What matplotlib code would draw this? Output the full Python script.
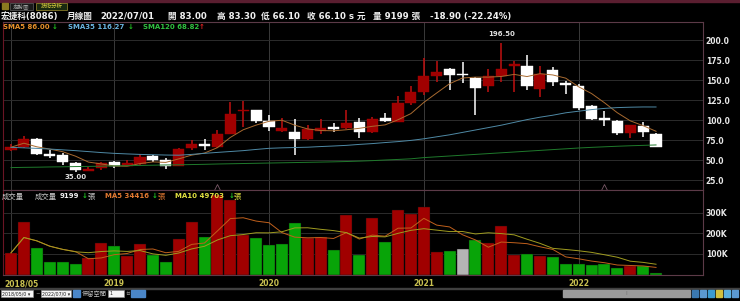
import numpy as np
import pandas as pd
import matplotlib.pyplot as plt
from matplotlib.patches import Rectangle

plt.rcParams['font.family'] = ['DejaVu Sans', 'Noto Sans CJK TC']

# monthly candles 2018/05 .. 2022/07
months = pd.period_range('2018-05', '2022-07', freq='M')
opens = [62, 66, 76, 58, 56, 46.5, 36.5, 40, 47, 43, 45.5, 55, 50, 43, 65, 69.5, 66,
         83, 111, 112.5, 99, 86, 85.5, 76, 86.5, 91, 89.5, 97, 85, 102, 98, 121, 135.5,
         155.5, 164, 158, 153, 143, 155, 167.5, 167.5, 139, 163, 146.5, 142.5, 117.5,
         102, 99, 83.5, 93, 83]
highs = [70, 80, 77, 62, 59, 48, 41, 48, 49, 50, 57, 56.5, 52, 65, 75, 76, 88, 123,
         124, 113, 106, 103, 101, 94, 101, 96, 112.5, 102, 104, 109, 130, 142.5, 178,
         174, 165, 172, 154, 164, 196.5, 174, 181, 167, 166, 149, 145, 119, 111, 100,
         93.8, 98, 83.3]
lows = [61, 65, 56, 53, 44, 35, 36, 37, 40, 42, 44, 48, 38.5, 42, 62.5, 62, 65, 82,
        91, 96.5, 86, 85.5, 56, 75.5, 83, 85.5, 89, 77, 84, 97, 97, 119, 131, 148, 138,
        146, 106, 135, 148, 135, 137.5, 129, 142, 132.5, 112.5, 100, 93, 81, 77, 79, 66.1]
closes = [66, 76, 57.5, 55, 47.5, 38, 39, 46, 42, 46.5, 54, 49.5, 43, 64, 70, 67, 83,
          107, 112, 99, 91, 89.5, 76, 88.5, 89.5, 89, 96, 85, 101, 98.5, 121, 134.5, 155,
          160, 156.5, 156.5, 140, 155, 164, 169.5, 143, 158, 147, 144, 115.5, 101, 100.5,
          84.3, 93.6, 85, 66.1]
# volume in thousand lots
vol_k = [105, 254, 131, 60, 60, 51, 80, 151, 139, 89, 147, 93, 60, 173, 257, 181, 385,
         360, 194, 176, 141, 146, 249, 178, 183, 118, 287, 94, 273, 157, 312, 292, 328,
         109, 113, 122, 167, 151, 234, 97, 99, 92, 86, 53, 51, 44, 52, 30, 42, 39, 9.199]
sma35 = [65.8, 65.2, 64.5, 63.7, 62.7, 61.7, 60.5, 59.3, 58.3, 57.6, 57, 56.6, 56.2, 56,
         57, 58.3, 59.5, 60.6, 61.7, 63.2, 64.6, 65.2, 65.6, 66, 66.8, 67.5, 68.3, 69.5,
         70.5, 71.8, 73, 74.5, 76.5, 79, 81.5, 84.5, 87.5, 90.5, 93.5, 97, 100.5, 103.5,
         106, 109, 111, 113, 114.5, 115.5, 116, 116.3, 116.27]
sma120 = [40.5, 40.8, 41.0, 41.3, 41.5, 41.8, 42.0, 42.3, 42.6, 42.9, 43.2, 43.5, 43.8,
          44.0, 44.3, 44.6, 45.0, 45.3, 45.6, 45.9, 46.2, 46.5, 46.8, 47.1, 47.4, 47.7,
          48.1, 48.6, 49.2, 50.0, 50.7, 51.5, 53.0, 54.0, 55.0, 56.0, 57.0, 58.0, 59.0,
          60.0, 61.0, 62.0, 63.0, 64.0, 65.0, 65.8, 66.5, 67.2, 67.8, 68.3, 68.82]
year_ticks = [0, 8, 20, 32, 44]
year_labels = ['2018/05', '2019', '2020', '2021', '2022']
event_idx = [16, 46]

W, H = 740, 301
fig = plt.figure(figsize=(W / 100, H / 100), dpi=100, facecolor='black')


def px_axes(x0, y0, x1, y1):
    a = fig.add_axes([x0 / W, 1 - y1 / H, (x1 - x0) / W, (y1 - y0) / H])
    a.set_facecolor('black')
    return a


def ftext(x, y, s, **kw):
    kw.setdefault('va', 'center')
    fig.text(x / W, 1 - y / H, s, **kw)


def frect(x0, y0, x1, y1, **kw):
    fig.patches.append(Rectangle((x0 / W, 1 - y1 / H), (x1 - x0) / W, (y1 - y0) / H,
                                 transform=fig.transFigure, **kw))


o = np.array(opens)
hi = np.array(highs)
lo = np.array(lows)
c = np.array(closes)
v = np.array(vol_k)
x = np.arange(len(months))
sma5 = pd.Series(c).rolling(5, min_periods=1).mean()
vma5 = pd.Series(v).rolling(5, min_periods=1).mean()
vma10 = pd.Series(v).rolling(10, min_periods=1).mean()

RED = '#a00000'
GREEN = '#08a408'
GRID = '#2c2c2c'
FRAME = '#5c3a48'

ax = px_axes(3, 22, 703, 190)
axv = px_axes(3, 190, 703, 274.5)
for a in (ax, axv):
    a.set_xlim(-0.62, 53.64)
    for s in a.spines.values():
        s.set_color(FRAME)
        s.set_linewidth(0.8)
    a.spines['left'].set_color('#6a1424')
    a.set_xticks([])
    for t in year_ticks:
        a.axvline(t, color='#3a3a3a', lw=0.7, zorder=0)

# price panel
ax.set_ylim(12.5, 222.5)
ticks = np.arange(25, 201, 25)
ax.set_yticks(ticks)
ax.set_yticklabels(['%.1f' % t for t in ticks])
ax.tick_params(axis='y', left=False, right=True, labelleft=False, labelright=True,
               length=0, pad=2, labelsize=5.5, labelcolor='#e8e8e8')
for lab in ax.get_yticklabels():
    lab.set_fontweight('bold')
for t in ticks:
    ax.axhline(t, color=GRID, lw=0.7, zorder=0)

up = c > o
col = np.where(up, RED, '#ffffff')
wick_col = np.where(up, '#c01010', '#ffffff')
ax.vlines(x, lo, hi, colors=wick_col, lw=1.1, zorder=2)
body_h = np.maximum(np.abs(c - o), 1.2)
ax.bar(x, body_h, bottom=np.minimum(o, c), width=0.86, color=col, edgecolor=col,
       lw=0.3, zorder=3)

ax.plot(x, sma5, color='#a86a30', lw=0.7, zorder=4)
ax.plot(x, sma35, color='#4f8aa6', lw=0.7, zorder=4)
ax.plot(x, sma120, color='#1f7a2c', lw=0.7, zorder=4)

imax = int(np.argmax(hi))
imin = int(np.argmin(lo))
ax.annotate('%.2f' % hi[imax], (imax, hi[imax]), xytext=(0, 4), textcoords='offset points',
            ha='center', va='bottom', color='#e0e0e0', fontsize=5, fontweight='bold')
ax.annotate('%.2f' % lo[imin], (imin, lo[imin]), xytext=(0, -1.5), textcoords='offset points',
            ha='center', va='top', color='#e0e0e0', fontsize=5, fontweight='bold')
ax.plot(event_idx, [16.5] * len(event_idx), ls='none', marker='^', ms=5, mfc='none',
        mec='#7a5a68', mew=0.6, zorder=1)

# volume panel
axv.set_ylim(0, 410)
vt = [100, 200, 300]
axv.set_yticks(vt)
axv.set_yticklabels(['%dK' % t for t in vt])
axv.tick_params(axis='y', left=False, right=True, labelleft=False, labelright=True,
                length=0, pad=2, labelsize=5.5, labelcolor='#e8e8e8')
for lab in axv.get_yticklabels():
    lab.set_fontweight('bold')
for t in vt:
    axv.axhline(t, color=GRID, lw=0.7, zorder=0)

chg = np.diff(c, prepend=c[0] - 1)
vcol = np.where(chg > 0, RED, np.where(chg < 0, GREEN, '#b4b4b4'))
axv.bar(x, v, width=0.93, color=vcol, edgecolor='#101010', lw=0.3, zorder=2)
axv.plot(x, vma5, color='#c0601c', lw=0.7, zorder=3)
axv.plot(x, vma10, color='#a09c20', lw=0.7, zorder=3)

for t, lab in zip(year_ticks, year_labels):
    lx = t if t else -0.55
    axv.text(lx, -0.11, lab, transform=axv.get_xaxis_transform(), color='#c8c050',
             fontsize=5.5, fontweight='bold', va='center',
             ha='left' if t == 0 else 'center')

# header: tabs
frect(0, 0, W, 1.5, color='#5a1e30')
frect(2, 3, 8, 9, color='#8a7a20')
frect(10, 2.5, 33, 10, facecolor='#1a1a1a', edgecolor='#606060', lw=0.5)
ftext(21.5, 6.5, '走勢圖', color='#a0a0a0', fontsize=4, ha='center')
frect(36, 2.5, 67, 10, facecolor='#1a2a10', edgecolor='#a09030', lw=0.5)
ftext(51.5, 6.5, '技術分析', color='#e0d040', fontsize=4, ha='center')

# header: title line
ty = 16
TW = dict(color='#f0f0f0', fontsize=6.2, fontweight='bold')
ftext(1, ty, '宏捷科(8086)', **TW)
ftext(67, ty, '月線圖', **TW)
ftext(100, ty, '2022/07/01', **TW)
ftext(168, ty, '開 83.00', **TW)
ftext(217, ty, '高 83.30', **TW)
ftext(261, ty, '低 66.10', **TW)
ftext(307, ty, '收 66.10 s 元', **TW)
ftext(373, ty, '量 9199 張', **TW)
ftext(430, ty, '-18.90 (-22.24%)', **TW)

# SMA legend
ly = 27
LW = dict(fontsize=5, fontweight='bold')
ftext(3, ly, 'SMA5 86.00', color='#e8902a', **LW)
ftext(51.5, ly, '↓', color='#20c020', **LW)
ftext(68, ly, 'SMA35 116.27', color='#6ab4e0', **LW)
ftext(128, ly, '↓', color='#20c020', **LW)
ftext(143, ly, 'SMA120 68.82', color='#30c040', **LW)
ftext(199, ly, '↑', color='#e02020', **LW)

# volume legend
vy = 196
CJ = 5.3
ftext(2, vy, '成交量', color='#c8c8c8', fontsize=CJ)
ftext(35, vy, '成交量', color='#c8c8c8', fontsize=CJ)
ftext(60, vy, '9199', color='#f0f0f0', **LW)
ftext(81.5, vy, '↓', color='#20c020', **LW)
ftext(87, vy, '張', color='#c8c8c8', fontsize=CJ)
ftext(105, vy, 'MA5 34416', color='#e07830', **LW)
ftext(151.5, vy, '↓', color='#20c020', **LW)
ftext(157, vy, '張', color='#e07830', fontsize=CJ)
ftext(175, vy, 'MA10 49703', color='#e0e040', **LW)
ftext(229, vy, '↓', color='#20c020', **LW)
ftext(234, vy, '張', color='#e0e040', fontsize=CJ)

# bottom control bar
frect(0, 288, W, 288.8, color='#404040')
frect(1, 290, 33, 297, facecolor='#f4f4f4', edgecolor='#909090', lw=0.4)
ftext(2, 293.5, '2018/05/0 ▾', color='#202020', fontsize=3.4)
ftext(35.5, 293.5, '~', color='#c0c0c0', fontsize=4)
frect(41, 290, 71, 297, facecolor='#f4f4f4', edgecolor='#909090', lw=0.4)
ftext(42, 293.5, '2022/07/0 ▾', color='#202020', fontsize=3.4)
frect(73, 290, 80, 297, color='#4a86c8')
ftext(82, 293.5, '保留空間', color='#c0c0c0', fontsize=4.5)
frect(108, 290, 124, 297, facecolor='#f4f4f4', edgecolor='#909090', lw=0.4)
ftext(109, 293.5, '1', color='#202020', fontsize=3.4)
ftext(125, 293.5, '台', color='#909090', fontsize=3.4)
frect(131, 290, 145, 297, color='#4a86c8')
frect(563, 290, 690, 297, color='#9a9a9a')
ftext(626, 293.5, '⁞', color='#606060', fontsize=4, ha='center')
for i, cc in enumerate(['#3a78b0', '#5a98d0', '#3a9ad0', '#d0c040', '#5ab0e0', '#5a98d0']):
    frect(692 + i * 8, 290, 698 + i * 8, 297, color=cc)

fig.savefig('out.png', dpi=100, facecolor='black')
